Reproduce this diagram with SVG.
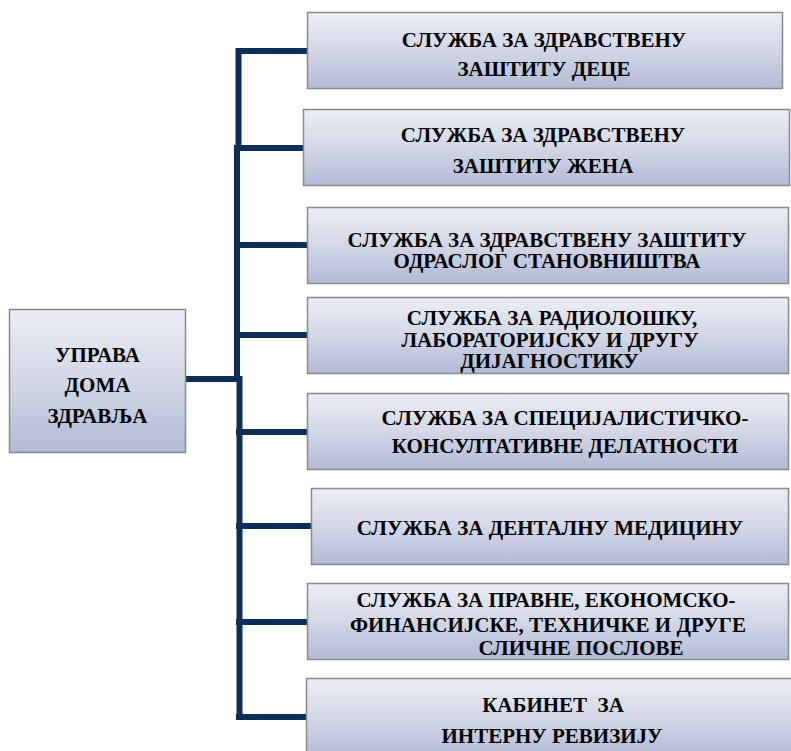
<svg xmlns="http://www.w3.org/2000/svg" width="791" height="751" viewBox="0 0 791 751">
<defs>
<linearGradient id="g" x1="0" y1="0" x2="0" y2="1">
<stop offset="0" stop-color="#eceef5"/>
<stop offset="0.5" stop-color="#d3d7e6"/>
<stop offset="1" stop-color="#b2bad5"/>
</linearGradient>
</defs>
<rect width="791" height="751" fill="#fff"/>
<g id="connectors" stroke="#0e2e58" stroke-width="6" fill="none">
<path d="M238.5,48 V148"/>
<path d="M237,145 V382"/>
<path d="M239.5,376 V720"/>
<path d="M236,51 H307"/>
<path d="M236,148 H303"/>
<path d="M236,245 H307"/>
<path d="M186,379 H240"/>
<path d="M236,335 H307"/>
<path d="M236,432 H307"/>
<path d="M236,526 H311"/>
<path d="M236,622 H307"/>
<path d="M236,717 H307"/>
</g>
<g id="root">
<rect fill="url(#g)" stroke="#8a8a8c" stroke-width="1.5" x="9.5" y="309.5" width="176" height="143"/>
<text x="97.5" y="362" font-family="Liberation Serif" font-weight="bold" font-size="21" text-anchor="middle">УПРАВА</text>
<text x="97.5" y="392" font-family="Liberation Serif" font-weight="bold" font-size="21" text-anchor="middle">ДОМА</text>
<text x="97.5" y="423" font-family="Liberation Serif" font-weight="bold" font-size="21" text-anchor="middle">ЗДРАВЉА</text>
</g>
<g id="n1">
<rect fill="url(#g)" stroke="#8a8a8c" stroke-width="1.5" x="307.5" y="12.5" width="475" height="76"/>
<text x="544" y="47" font-family="Liberation Serif" font-weight="bold" font-size="21" text-anchor="middle">СЛУЖБА ЗА ЗДРАВСТВЕНУ</text>
<text x="544" y="76" font-family="Liberation Serif" font-weight="bold" font-size="21" text-anchor="middle">ЗАШТИТУ ДЕЦЕ</text>
</g>
<g id="n2">
<rect fill="url(#g)" stroke="#8a8a8c" stroke-width="1.5" x="303.5" y="109.5" width="486" height="76"/>
<text x="543" y="142" font-family="Liberation Serif" font-weight="bold" font-size="21" text-anchor="middle">СЛУЖБА ЗА ЗДРАВСТВЕНУ</text>
<text x="543" y="173" font-family="Liberation Serif" font-weight="bold" font-size="21" text-anchor="middle">ЗАШТИТУ ЖЕНА</text>
</g>
<g id="n3">
<rect fill="url(#g)" stroke="#8a8a8c" stroke-width="1.5" x="307.5" y="207.5" width="481" height="76"/>
<text x="547" y="247" font-family="Liberation Serif" font-weight="bold" font-size="21" text-anchor="middle">СЛУЖБА ЗА ЗДРАВСТВЕНУ ЗАШТИТУ</text>
<text x="547" y="268" font-family="Liberation Serif" font-weight="bold" font-size="21" text-anchor="middle">ОДРАСЛОГ СТАНОВНИШТВА</text>
</g>
<g id="n4">
<rect fill="url(#g)" stroke="#8a8a8c" stroke-width="1.5" x="307.5" y="297.5" width="481" height="76"/>
<text x="552" y="325" font-family="Liberation Serif" font-weight="bold" font-size="21" text-anchor="middle">СЛУЖБА ЗА РАДИОЛОШКУ,</text>
<text x="550" y="347" font-family="Liberation Serif" font-weight="bold" font-size="21" text-anchor="middle">ЛАБОРАТОРИЈСКУ И ДРУГУ</text>
<text x="549.5" y="368" font-family="Liberation Serif" font-weight="bold" font-size="21" text-anchor="middle">ДИЈАГНОСТИКУ</text>
</g>
<g id="n5">
<rect fill="url(#g)" stroke="#8a8a8c" stroke-width="1.5" x="307.5" y="393.5" width="481" height="76"/>
<text x="565" y="425" font-family="Liberation Serif" font-weight="bold" font-size="21" text-anchor="middle">СЛУЖБА ЗА СПЕЦИЈАЛИСТИЧКО-</text>
<text x="565" y="453" font-family="Liberation Serif" font-weight="bold" font-size="21" text-anchor="middle">КОНСУЛТАТИВНЕ ДЕЛАТНОСТИ</text>
</g>
<g id="n6">
<rect fill="url(#g)" stroke="#8a8a8c" stroke-width="1.5" x="311.5" y="488.5" width="477" height="76"/>
<text x="550" y="535" font-family="Liberation Serif" font-weight="bold" font-size="21" text-anchor="middle">СЛУЖБА ЗА ДЕНТАЛНУ МЕДИЦИНУ</text>
</g>
<g id="n7">
<rect fill="url(#g)" stroke="#8a8a8c" stroke-width="1.5" x="307.5" y="583.5" width="481" height="76"/>
<text x="546" y="607" font-family="Liberation Serif" font-weight="bold" font-size="21" text-anchor="middle">СЛУЖБА ЗА ПРАВНЕ, ЕКОНОМСКО-</text>
<text x="548" y="632" font-family="Liberation Serif" font-weight="bold" font-size="21" text-anchor="middle">ФИНАНСИЈСКЕ, ТЕХНИЧКЕ И ДРУГЕ</text>
<text x="581" y="655" font-family="Liberation Serif" font-weight="bold" font-size="21" text-anchor="middle">СЛИЧНЕ ПОСЛОВЕ</text>
</g>
<g id="n8">
<rect fill="url(#g)" stroke="#8a8a8c" stroke-width="1.5" x="306.5" y="678.5" width="490" height="80"/>
<text x="553" y="712" font-family="Liberation Serif" font-weight="bold" font-size="21" text-anchor="middle" xml:space="preserve">КАБИНЕТ  ЗА</text>
<text x="552" y="743" font-family="Liberation Serif" font-weight="bold" font-size="21" text-anchor="middle">ИНТЕРНУ РЕВИЗИЈУ</text>
</g>
</svg>
